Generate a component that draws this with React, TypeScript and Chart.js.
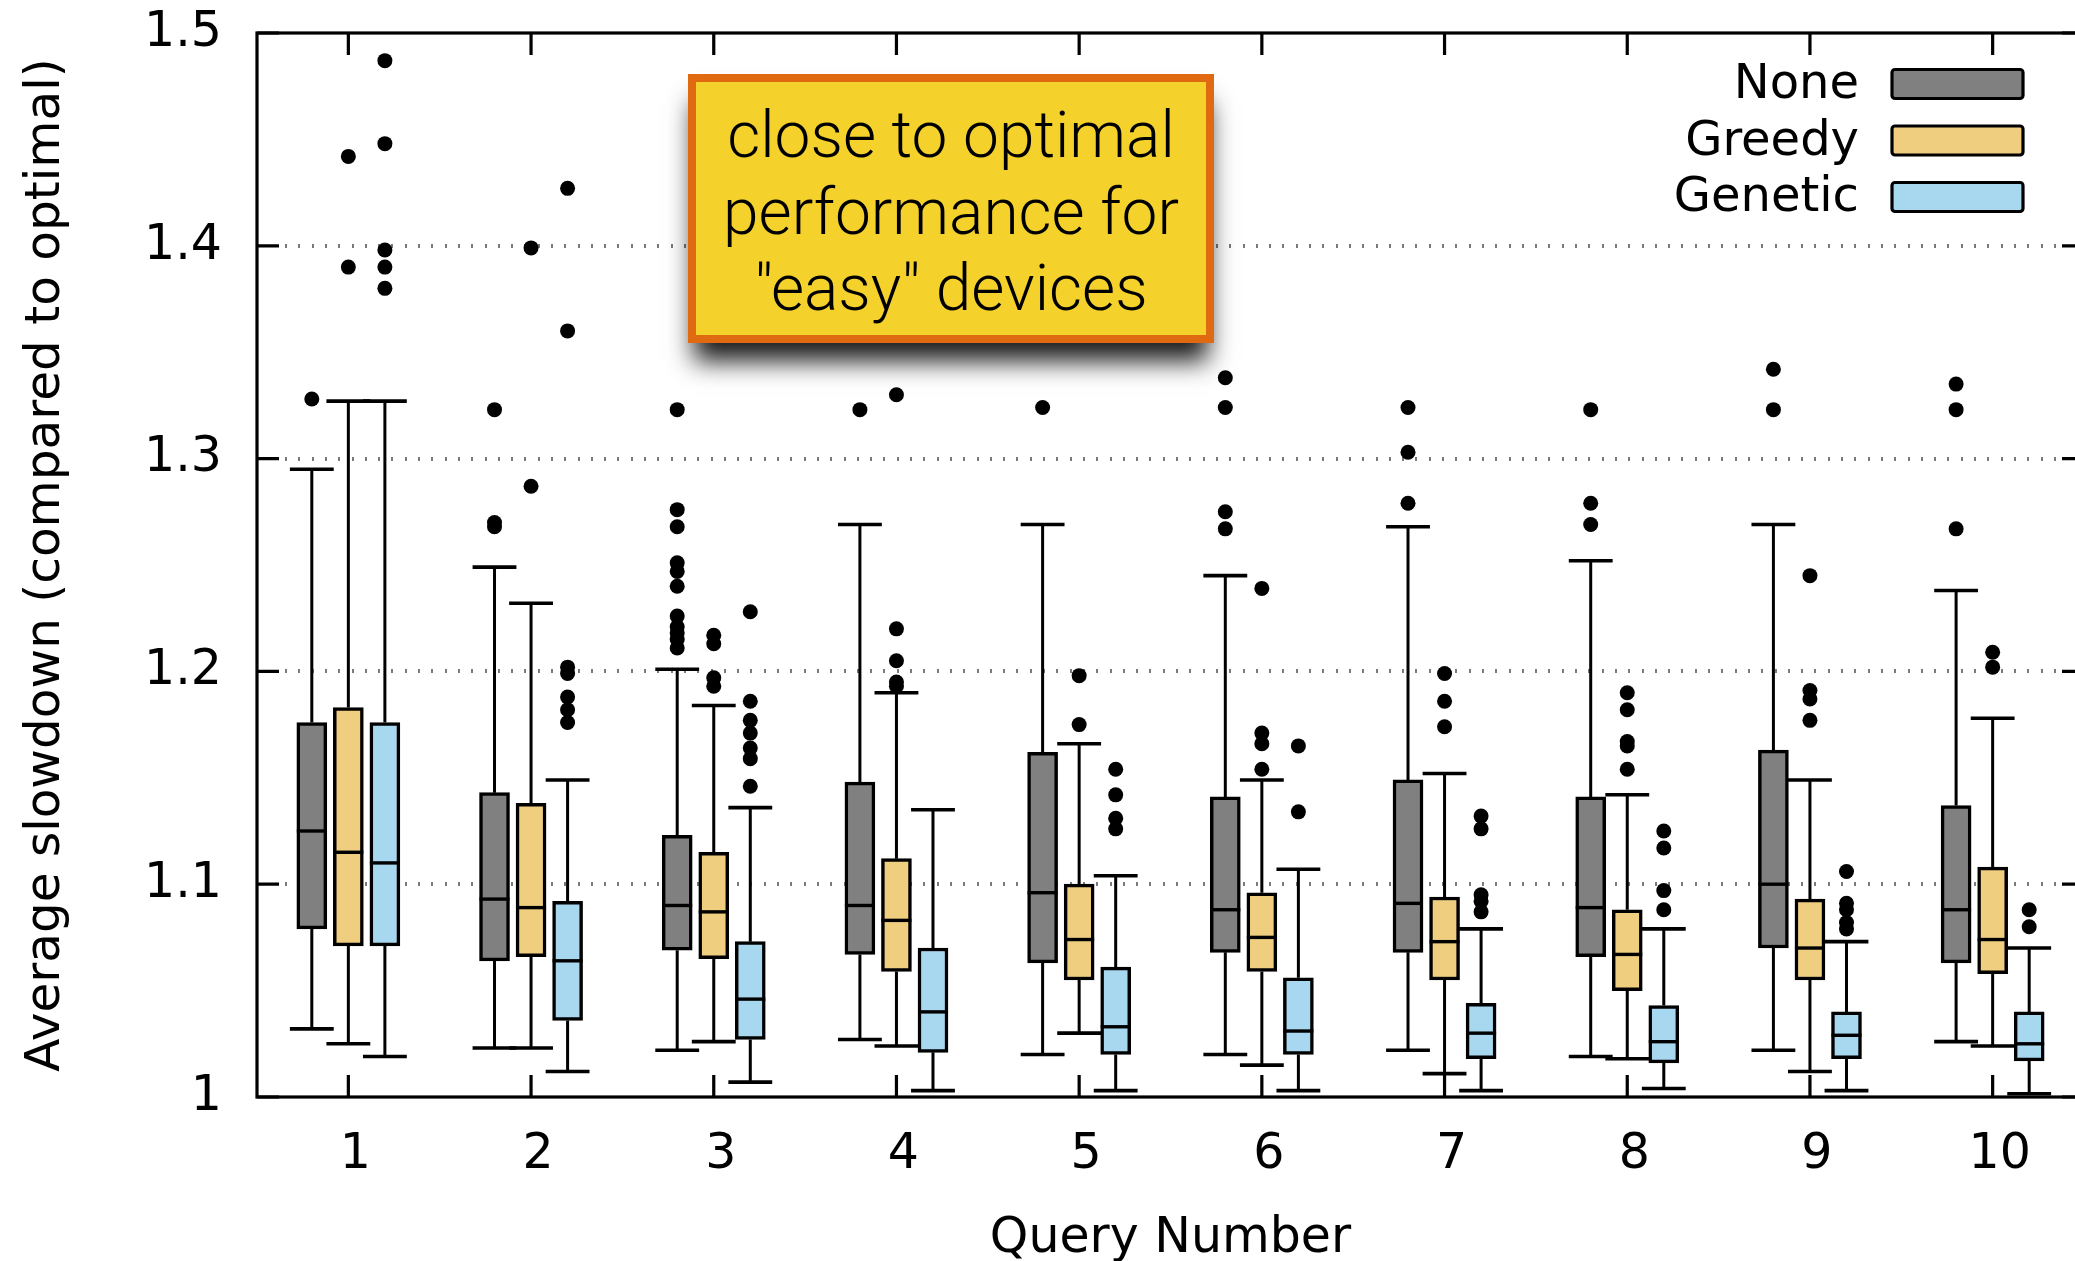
import React, { useEffect, useRef } from 'react';
import Chart from 'chart.js/auto';

// ---------------- data ----------------
const queries = [1, 2, 3, 4, 5, 6, 7, 8, 9, 10];
const seriesNames = ['None', 'Greedy', 'Genetic'];
const seriesColors = ['#808080', '#F0CE80', '#A8D8F0'];
const seriesOffsets = [-0.2, 0, 0.2];

const noneLow = [1.032, 1.023, 1.022, 1.027, 1.020, 1.020, 1.022, 1.019, 1.022, 1.026];
const noneQ1 = [1.079, 1.064, 1.069, 1.067, 1.063, 1.068, 1.068, 1.066, 1.070, 1.063];
const noneMed = [1.125, 1.093, 1.090, 1.090, 1.096, 1.088, 1.091, 1.089, 1.100, 1.088];
const noneQ3 = [1.176, 1.143, 1.123, 1.148, 1.162, 1.141, 1.149, 1.141, 1.163, 1.137];
const noneHigh = [1.295, 1.249, 1.201, 1.269, 1.269, 1.245, 1.268, 1.252, 1.269, 1.238];
const noneOutliers = [
  [1.328],
  [1.323, 1.270, 1.268],
  [1.323, 1.276, 1.268, 1.251, 1.247, 1.240, 1.226, 1.221, 1.218, 1.215, 1.211],
  [1.323],
  [1.324],
  [1.338, 1.324, 1.275, 1.267],
  [1.324, 1.303, 1.279],
  [1.323, 1.279, 1.269],
  [1.342, 1.323],
  [1.335, 1.323, 1.267],
];

const greedyLow = [1.025, 1.023, 1.026, 1.024, 1.030, 1.015, 1.011, 1.018, 1.012, 1.024];
const greedyQ1 = [1.071, 1.066, 1.065, 1.059, 1.055, 1.059, 1.055, 1.050, 1.055, 1.058];
const greedyMed = [1.115, 1.089, 1.087, 1.083, 1.074, 1.075, 1.073, 1.067, 1.070, 1.074];
const greedyQ3 = [1.183, 1.138, 1.115, 1.112, 1.100, 1.096, 1.094, 1.088, 1.093, 1.108];
const greedyHigh = [1.327, 1.232, 1.184, 1.190, 1.166, 1.149, 1.152, 1.142, 1.149, 1.178];
const greedyOutliers = [
  [1.442, 1.390],
  [1.399, 1.287],
  [1.217, 1.213, 1.197, 1.193],
  [1.330, 1.220, 1.205, 1.195, 1.193],
  [1.198, 1.175],
  [1.239, 1.171, 1.166, 1.154],
  [1.199, 1.186, 1.174],
  [1.190, 1.182, 1.167, 1.165, 1.154],
  [1.245, 1.191, 1.187, 1.177],
  [1.209, 1.202],
];

const geneticLow = [1.019, 1.012, 1.007, 1.003, 1.003, 1.003, 1.003, 1.004, 1.003, 1.0015];
const geneticQ1 = [1.071, 1.036, 1.027, 1.021, 1.020, 1.020, 1.018, 1.016, 1.018, 1.017];
const geneticMed = [1.110, 1.064, 1.046, 1.040, 1.033, 1.031, 1.030, 1.026, 1.029, 1.025];
const geneticQ3 = [1.176, 1.092, 1.073, 1.070, 1.061, 1.056, 1.044, 1.043, 1.040, 1.040];
const geneticHigh = [1.327, 1.149, 1.136, 1.135, 1.104, 1.107, 1.079, 1.079, 1.073, 1.070];
const geneticOutliers = [
  [1.487, 1.448, 1.398, 1.390, 1.380],
  [1.427, 1.360, 1.202, 1.199, 1.188, 1.182, 1.176],
  [1.228, 1.186, 1.177, 1.171, 1.164, 1.159, 1.146],
  [],
  [1.154, 1.142, 1.131, 1.126],
  [1.165, 1.134],
  [1.132, 1.126, 1.095, 1.092, 1.087],
  [1.125, 1.117, 1.097, 1.088],
  [1.106, 1.091, 1.088, 1.082, 1.079],
  [1.088, 1.080],
];

const yTickValues = [1, 1.1, 1.2, 1.3, 1.4, 1.5];
const yTickLabels = ['1', '1.1', '1.2', '1.3', '1.4', '1.5'];
const xTickLabels = ['1', '2', '3', '4', '5', '6', '7', '8', '9', '10'];
const xAxisTitle = 'Query Number';
const yAxisTitle = 'Average slowdown (compared to optimal)';
const annotationLines = ['close to optimal', 'performance for', '"easy" devices'];

// ---------------- built tables ----------------
const SERIES = [
  { low: noneLow, q1: noneQ1, med: noneMed, q3: noneQ3, high: noneHigh, out: noneOutliers },
  { low: greedyLow, q1: greedyQ1, med: greedyMed, q3: greedyQ3, high: greedyHigh, out: greedyOutliers },
  { low: geneticLow, q1: geneticQ1, med: geneticMed, q3: geneticQ3, high: geneticHigh, out: geneticOutliers },
];

const FONT = 'DejaVu Sans';

const boxPlugin = {
  id: 'boxplotExtras',
  beforeDatasetsDraw(chart: any) {
    const { ctx, chartArea: a, scales } = chart;
    const x = scales.x;
    const y = scales.y;
    // dotted grid
    ctx.save();
    ctx.fillStyle = '#7a7a7a';
    yTickValues.forEach((v) => {
      if (v <= y.min + 1e-9 || v >= y.max - 1e-9) return;
      const py = Math.round(y.getPixelForValue(v));
      for (let px = a.left + 28; px < a.right - 20; px += 13.3) {
        ctx.fillRect(Math.round(px), py - 2, 2, 4);
      }
    });
    ctx.restore();
    // whiskers + caps
    ctx.save();
    ctx.strokeStyle = '#000';
    const capHalf = x.getPixelForValue(0.12) - x.getPixelForValue(0);
    SERIES.forEach((s, si) => {
      queries.forEach((q, i) => {
        const px = x.getPixelForValue(q + seriesOffsets[si]);
        ctx.lineWidth = 3;
        ctx.beginPath();
        ctx.moveTo(px, y.getPixelForValue(s.low[i]));
        ctx.lineTo(px, y.getPixelForValue(s.q1[i]));
        ctx.moveTo(px, y.getPixelForValue(s.q3[i]));
        ctx.lineTo(px, y.getPixelForValue(s.high[i]));
        ctx.stroke();
        ctx.lineWidth = 3.6;
        ctx.beginPath();
        const yl = y.getPixelForValue(s.low[i]);
        const yh = y.getPixelForValue(s.high[i]);
        ctx.moveTo(px - capHalf, yl);
        ctx.lineTo(px + capHalf, yl);
        ctx.moveTo(px - capHalf, yh);
        ctx.lineTo(px + capHalf, yh);
        ctx.stroke();
      });
    });
    ctx.restore();
  },
  afterDatasetsDraw(chart: any) {
    const { ctx, chartArea: a, scales } = chart;
    const x = scales.x;
    const y = scales.y;
    // medians
    ctx.save();
    ctx.strokeStyle = '#000';
    ctx.lineWidth = 3.4;
    SERIES.forEach((s, si) => {
      const meta = chart.getDatasetMeta(si);
      meta.data.forEach((el: any, i: number) => {
        const py = y.getPixelForValue(s.med[i]);
        ctx.beginPath();
        ctx.moveTo(el.x - el.width / 2, py);
        ctx.lineTo(el.x + el.width / 2, py);
        ctx.stroke();
      });
    });
    ctx.restore();
    // frame + inward ticks
    ctx.save();
    ctx.strokeStyle = '#000';
    ctx.lineWidth = 3.2;
    ctx.strokeRect(a.left, a.top, a.right - a.left, a.bottom - a.top);
    ctx.beginPath();
    const tl = 22;
    yTickValues.forEach((v) => {
      const py = y.getPixelForValue(v);
      ctx.moveTo(a.left, py);
      ctx.lineTo(a.left + tl, py);
      ctx.moveTo(a.right, py);
      ctx.lineTo(a.right - tl, py);
    });
    queries.forEach((q) => {
      const px = x.getPixelForValue(q);
      ctx.moveTo(px, a.bottom);
      ctx.lineTo(px, a.bottom - tl);
      ctx.moveTo(px, a.top);
      ctx.lineTo(px, a.top + tl);
    });
    ctx.stroke();
    ctx.restore();
  },
  afterDraw(chart: any) {
    const { ctx } = chart;
    // annotation box with shadow
    const bx = 688, by = 74, bw = 526, bh = 269, bord = 8;
    ctx.save();
    ctx.shadowColor = 'rgba(0,0,0,0.9)';
    ctx.shadowBlur = 24;
    ctx.shadowOffsetY = 18;
    ctx.fillStyle = '#E06A12';
    ctx.fillRect(bx + 6, by + 10, bw - 12, bh - 10);
    ctx.restore();
    ctx.save();
    ctx.fillStyle = '#E06A12';
    ctx.fillRect(bx, by, bw, bh);
    ctx.fillStyle = '#F5D22B';
    ctx.fillRect(bx + bord, by + bord, bw - 2 * bord, bh - 2 * bord);
    ctx.fillStyle = '#000';
    ctx.font = '300 64px Roboto, "Liberation Sans", sans-serif';
    ctx.textAlign = 'center';
    ctx.textBaseline = 'alphabetic';
    annotationLines.forEach((line, i) => {
      ctx.fillText(line, bx + bw / 2, 157 + i * 76.7);
    });
    ctx.restore();
    // legend
    ctx.save();
    ctx.font = `48px "${FONT}"`;
    ctx.textAlign = 'right';
    ctx.textBaseline = 'middle';
    seriesNames.forEach((name, i) => {
      const cy = 84 + i * 56.5;
      ctx.fillStyle = '#000';
      ctx.fillText(name, 1859, cy + 2);
      ctx.beginPath();
      (ctx as any).roundRect(1892, cy - 14.5, 131, 29, 3);
      ctx.fillStyle = seriesColors[i];
      ctx.fill();
      ctx.lineWidth = 3.2;
      ctx.strokeStyle = '#000';
      ctx.stroke();
    });
    ctx.restore();
  },
};

export default function App() {
  const ref = useRef<HTMLCanvasElement>(null);
  useEffect(() => {
    const boxDatasets = SERIES.map((s, si) => ({
      type: 'bar' as const,
      label: seriesNames[si],
      data: queries.map((q, i) => ({ x: q + seriesOffsets[si], y: [s.q1[i], s.q3[i]] })),
      backgroundColor: seriesColors[si],
      borderColor: '#000',
      borderWidth: 3.5,
      borderSkipped: false,
      barThickness: 30,
      grouped: false,
    }));
    const outlierDatasets = SERIES.map((s, si) => ({
      type: 'scatter' as const,
      label: seriesNames[si] + ' outliers',
      data: queries.flatMap((q, i) => s.out[i].map((v) => ({ x: q + seriesOffsets[si], y: v }))),
      pointRadius: 7.5,
      pointHoverRadius: 7.5,
      pointBackgroundColor: '#000',
      pointBorderWidth: 0,
      showLine: false,
    }));
    const chart = new Chart(ref.current as HTMLCanvasElement, {
      type: 'bar',
      data: { datasets: [...boxDatasets, ...outlierDatasets] as any },
      options: {
        responsive: false,
        animation: false,
        events: [],
        layout: { padding: { left: 0, right: 16, top: 33, bottom: 0 } },
        plugins: { legend: { display: false }, tooltip: { enabled: false } },
        scales: {
          x: {
            type: 'linear',
            min: 0.5,
            max: 10.5,
            offset: false,
            afterBuildTicks: (s: any) => {
              s.ticks = queries.map((v) => ({ value: v }));
            },
            afterFit: (s: any) => {
              s.height = 183;
              s.paddingLeft = 0;
              s.paddingRight = 0;
              s.paddingTop = 0;
              s.paddingBottom = 0;
            },
            grid: { display: false, drawTicks: false },
            border: { display: false },
            ticks: {
              font: { size: 49, family: FONT },
              color: '#000',
              padding: 29,
              labelOffset: 7,
              maxRotation: 0,
              autoSkip: false,
              callback: (v: any) => {
                const i = queries.indexOf(Number(v));
                return i >= 0 ? xTickLabels[i] : '';
              },
            },
            title: {
              display: true,
              text: xAxisTitle,
              font: { size: 49, family: FONT },
              color: '#000',
              padding: { top: 0, bottom: 11 },
            },
          },
          y: {
            type: 'linear',
            min: 1,
            max: 1.5,
            beginAtZero: false,
            afterBuildTicks: (s: any) => {
              s.ticks = yTickValues.map((v) => ({ value: v }));
            },
            afterFit: (s: any) => {
              s.width = 257;
              s.paddingLeft = 0;
              s.paddingRight = 0;
              s.paddingTop = 0;
              s.paddingBottom = 0;
            },
            grid: { display: false, drawTicks: false },
            border: { display: false },
            ticks: {
              font: { size: 49, family: FONT },
              color: '#000',
              padding: 35,
              callback: (v: any) => {
                const i = yTickValues.findIndex((t) => Math.abs(t - Number(v)) < 1e-9);
                return i >= 0 ? yTickLabels[i] : '';
              },
            },
            title: {
              display: true,
              text: yAxisTitle,
              font: { size: 48.5, family: FONT },
              color: '#000',
              padding: { top: 17, bottom: 0 },
            },
          },
        },
      } as any,
      plugins: [boxPlugin],
    });
    return () => chart.destroy();
  }, []);
  return (
    <div
      style={{
        position: 'fixed',
        left: 0,
        top: 0,
        width: 2075,
        height: 1261,
        overflow: 'hidden',
        background: '#fff',
      }}
    >
      <canvas ref={ref} width={2100} height={1280} style={{ display: 'block' }} />
    </div>
  );
}
